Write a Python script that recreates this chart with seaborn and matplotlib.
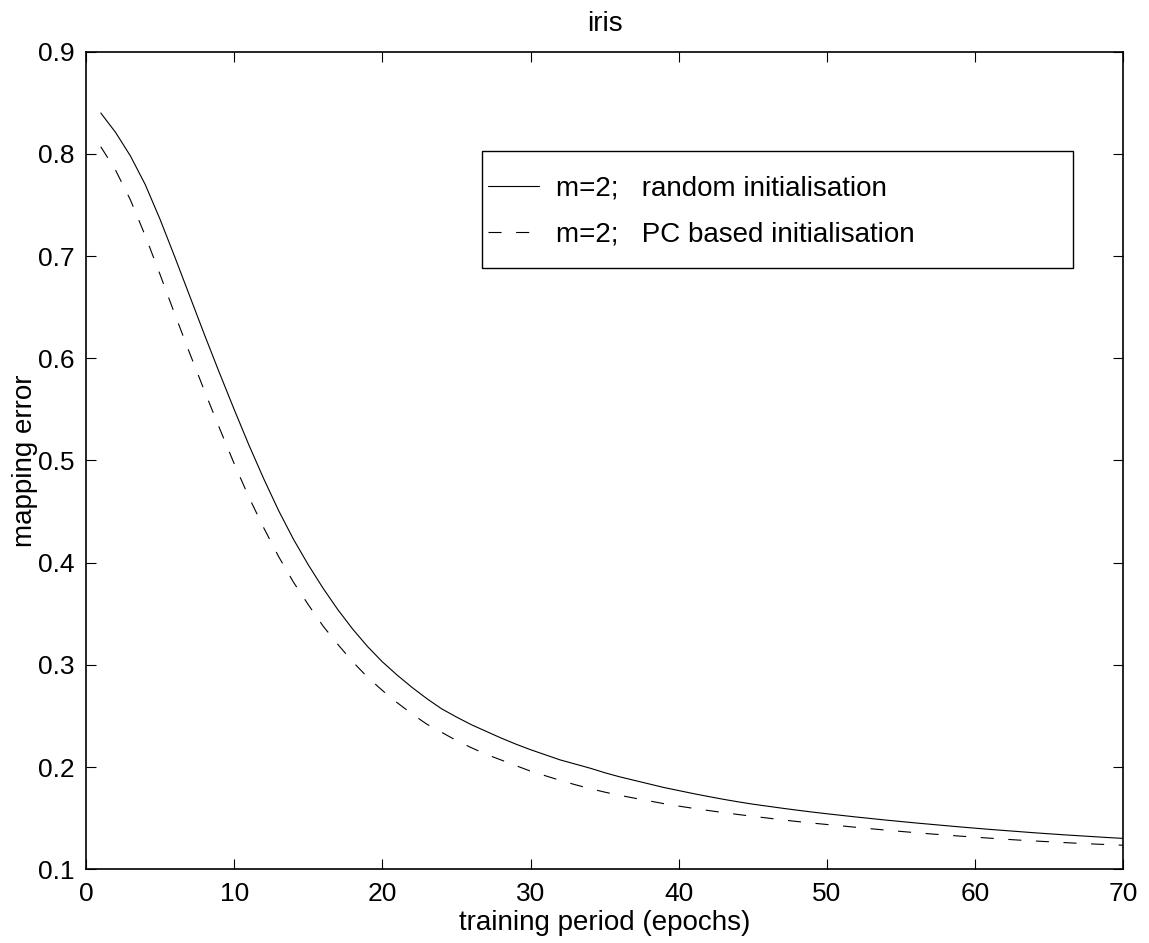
import numpy as np
import pandas as pd
import seaborn as sns
import matplotlib
matplotlib.use("Agg")
import matplotlib.pyplot as plt
from matplotlib.patches import Rectangle

# ---- data ----
epochs = list(range(1, 71))
random_init = [
    0.840, 0.821, 0.798, 0.770, 0.736, 0.699, 0.661, 0.623, 0.586, 0.550,
    0.515, 0.482, 0.451, 0.423, 0.398, 0.375, 0.354, 0.335, 0.318, 0.303,
    0.290, 0.278, 0.267, 0.257, 0.249, 0.2415, 0.235, 0.2285, 0.2225, 0.217,
    0.212, 0.207, 0.203, 0.199, 0.1945, 0.1905, 0.187, 0.1835, 0.180, 0.177,
    0.174, 0.1712, 0.1685, 0.166, 0.1637, 0.1617, 0.1597, 0.1578, 0.156, 0.1543,
    0.1527, 0.1511, 0.1496, 0.1481, 0.1467, 0.1453, 0.144, 0.1427, 0.1414, 0.1402,
    0.139, 0.1379, 0.1368, 0.1357, 0.1347, 0.1337, 0.1328, 0.1319, 0.131, 0.1302,
]
pc_init = [
    0.807, 0.784, 0.755, 0.720, 0.682, 0.643, 0.605, 0.568, 0.532, 0.497,
    0.464, 0.434, 0.406, 0.381, 0.359, 0.338, 0.320, 0.303, 0.288, 0.275,
    0.263, 0.252, 0.242, 0.234, 0.226, 0.219, 0.2125, 0.207, 0.2015, 0.196,
    0.1915, 0.187, 0.1828, 0.179, 0.1755, 0.1724, 0.1696, 0.1669, 0.1642, 0.1618,
    0.1596, 0.1575, 0.1555, 0.1536, 0.1518, 0.1501, 0.1483, 0.1467, 0.1452, 0.1438,
    0.1424, 0.141, 0.1396, 0.1383, 0.137, 0.1358, 0.1346, 0.1335, 0.1324, 0.1314,
    0.1304, 0.1294, 0.1285, 0.1277, 0.1269, 0.1261, 0.1254, 0.1247, 0.1241, 0.1235,
]
series_labels = ["m=2;   random initialisation", "m=2;   PC based initialisation"]
x_ticks = [0, 10, 20, 30, 40, 50, 60, 70]
y_ticks = [0.1, 0.2, 0.3, 0.4, 0.5, 0.6, 0.7, 0.8, 0.9]

df = pd.DataFrame({
    "epoch": epochs * 2,
    "error": random_init + pc_init,
    "series": [series_labels[0]] * len(epochs) + [series_labels[1]] * len(epochs),
})

sns.set_style("ticks")
plt.rcParams["font.family"] = ["Liberation Sans", "DejaVu Sans"]
plt.rcParams["lines.scale_dashes"] = False
plt.rcParams["text.color"] = "black"
plt.rcParams["axes.labelcolor"] = "black"
plt.rcParams["xtick.color"] = "black"
plt.rcParams["ytick.color"] = "black"

fig = plt.figure(figsize=(11.49, 9.43), dpi=100)
ax = fig.add_axes([0.0748, 0.0782, 0.9776 - 0.0748, 0.9452 - 0.0782])

sns.lineplot(
    data=df, x="epoch", y="error", hue="series", style="series",
    palette=["black", "black"], dashes={series_labels[0]: "", series_labels[1]: (9.4, 10.5)},
    linewidth=0.8, ax=ax, legend=True,
)

ax.set_xlim(0, 70)
ax.set_ylim(0.1, 0.9)
ax.set_xticks(x_ticks)
ax.set_yticks(y_ticks)
ax.set_xticklabels([str(v) for v in x_ticks])
ax.set_yticklabels([f"{v:.1f}" for v in y_ticks])
ax.tick_params(axis="both", which="both", direction="in", length=7.5, width=0.8,
               top=True, right=True, labelsize=19, colors="black")
ax.tick_params(axis="x", pad=9)
ax.tick_params(axis="y", pad=8)
for s in ax.spines.values():
    s.set_visible(True)
    s.set_linewidth(1.2)
    s.set_color("black")

ax.set_xlabel("training period (epochs)", fontsize=20, labelpad=3, color="black")
ax.set_ylabel("mapping error", fontsize=20, labelpad=0.5, color="black")
ax.set_title("iris", fontsize=20, pad=15, color="black")

handles, labels = ax.get_legend_handles_labels()
leg = ax.legend(handles, labels, loc="upper left", bbox_to_anchor=(0.3875, 0.848),
                frameon=False, fontsize=20, handlelength=1.85, handletextpad=0.6,
                labelspacing=0.70, borderpad=0.0, borderaxespad=0.0)
for t in leg.get_texts():
    t.set_color("black")
for h in leg.get_lines():
    h.set_linewidth(0.8)
ax.add_patch(Rectangle((0.3818, 0.7353), 0.9515 - 0.3818, 0.8785 - 0.7353,
                       transform=ax.transAxes, fill=False, edgecolor="black",
                       linewidth=1.0, zorder=5))

fig.savefig("out.png", dpi=100, facecolor="white")
